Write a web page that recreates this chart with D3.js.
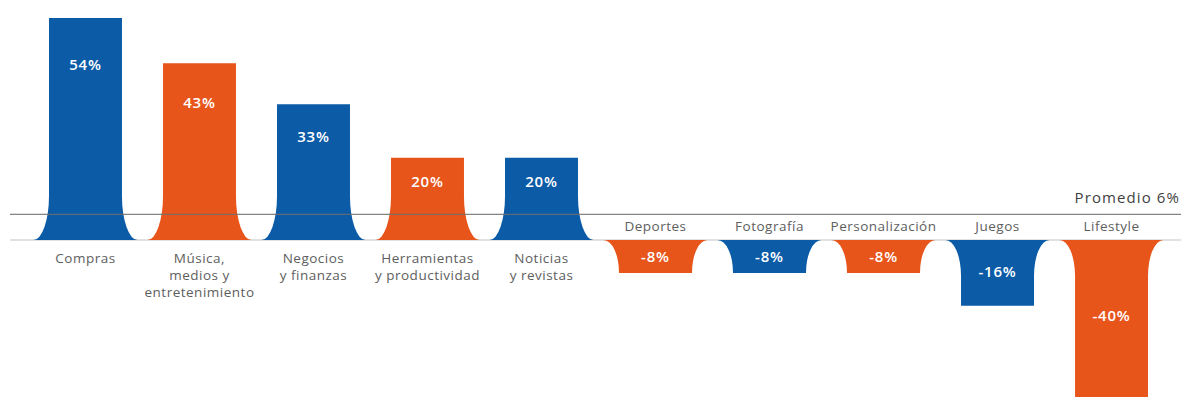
<!DOCTYPE html>
<html>
<head>
<meta charset="utf-8">
<script src="https://cdn.jsdelivr.net/npm/d3@7"></script>
<style>
  html, body { margin: 0; padding: 0; background: #fff; }
  svg { display: block; }
</style>
</head>
<body>
<svg id="chart" width="1181" height="397"></svg>
<script>
// Variación por categoría respecto al total, con el promedio general
const categories = [
  "Compras",
  "Música, medios y entretenimiento",
  "Negocios y finanzas",
  "Herramientas y productividad",
  "Noticias y revistas",
  "Deportes",
  "Fotografía",
  "Personalización",
  "Juegos",
  "Lifestyle"
];
// Category labels broken into lines
const labelLines = [
  ["Compras"],
  ["Música,", "medios y", "entretenimiento"],
  ["Negocios", "y finanzas"],
  ["Herramientas", "y productividad"],
  ["Noticias", "y revistas"],
  ["Deportes"],
  ["Fotografía"],
  ["Personalización"],
  ["Juegos"],
  ["Lifestyle"]
];
const values = [54, 43, 33, 20, 20, -8, -8, -8, -16, -40];
const colorKeys = ["azul", "naranja", "azul", "naranja", "azul", "naranja", "azul", "naranja", "azul", "naranja"];
const average = 6;
const averageLabel = "Promedio 6%";

const palette = { azul: "#0b5ba7", naranja: "#e8551b" };

const svg = d3.select("#chart");
const W = 1181;

const x = d3.scaleBand()
  .domain(categories)
  .range([49, 1148])
  .paddingInner(0.36)
  .paddingOuter(0);

const y = d3.scaleLinear()
  .domain([0, 54])
  .range([240, 18]);

const y0 = y(0);
const flareW = 15.5;

// Bar with a bell-shaped base that spreads out along the zero line
function barPath(d, i) {
  const x0 = x(categories[i]);
  const x1 = x0 + x.bandwidth();
  const yv = y(d);
  const h = Math.abs(yv - y0);
  if (d >= 0) {
    const fh = Math.min(44, h);
    return `M${x0 - flareW},${y0}` +
      `A${flareW},${fh} 0 0 0 ${x0},${y0 - fh}` +
      `L${x0},${yv}L${x1},${yv}L${x1},${y0 - fh}` +
      `A${flareW},${fh} 0 0 0 ${x1 + flareW},${y0}Z`;
  } else {
    const fh = Math.min(36, h);
    return `M${x0 - flareW},${y0}` +
      `A${flareW},${fh} 0 0 1 ${x0},${y0 + fh}` +
      `L${x0},${yv}L${x1},${yv}L${x1},${y0 + fh}` +
      `A${flareW},${fh} 0 0 1 ${x1 + flareW},${y0}Z`;
  }
}

// Zero line
svg.append("line")
  .attr("x1", 10).attr("x2", W)
  .attr("y1", y0).attr("y2", y0)
  .attr("stroke", "#c4c4c4").attr("stroke-width", 1.2);

// Bars
svg.append("g").selectAll("path")
  .data(values)
  .join("path")
  .attr("d", (d, i) => barPath(d, i))
  .attr("fill", (d, i) => palette[colorKeys[i]]);

// Average line, drawn over the bars
svg.append("line")
  .attr("x1", 10).attr("x2", W)
  .attr("y1", y(average) - 1).attr("y2", y(average) - 1)
  .attr("stroke", "#6e6e6e").attr("stroke-width", 1.3)
  .attr("stroke-opacity", 0.85);

svg.append("text")
  .attr("x", W - 1)
  .attr("y", y(average) - 12.5)
  .attr("text-anchor", "end")
  .attr("font-family", "'Open Sans', sans-serif")
  .attr("font-size", 15)
  .attr("letter-spacing", 1.1)
  .attr("fill", "#3f3f3f")
  .text(averageLabel);

// Value labels inside the bars
svg.append("g").selectAll("text")
  .data(values)
  .join("text")
  .attr("x", (d, i) => x(categories[i]) + x.bandwidth() / 2)
  .attr("y", (d, i) => {
    const h = Math.abs(y(d) - y0);
    return d >= 0 ? y(d) + 11 + 0.16 * h : y0 + 2 + 0.45 * h;
  })
  .attr("dy", "0.35em")
  .attr("text-anchor", "middle")
  .attr("font-family", "'Open Sans', sans-serif")
  .attr("font-size", 15)
  .attr("font-weight", 600)
  .attr("letter-spacing", 0.8)
  .attr("fill", "#ffffff")
  .text(d => `${d}%`);

// Category labels: below the zero line for gains, above it for losses
const catG = svg.append("g")
  .attr("font-family", "'Open Sans', sans-serif")
  .attr("font-size", 13.5)
  .attr("letter-spacing", 0.5)
  .attr("fill", "#5e5e5e")
  .attr("text-anchor", "middle");

catG.selectAll("text")
  .data(values)
  .join("text")
  .attr("x", (d, i) => x(categories[i]) + x.bandwidth() / 2)
  .attr("y", d => d >= 0 ? y0 + 23 : y0 - 9)
  .each(function (d, i) {
    d3.select(this).selectAll("tspan")
      .data(labelLines[i])
      .join("tspan")
      .attr("x", x(categories[i]) + x.bandwidth() / 2)
      .attr("dy", (t, j) => j === 0 ? 0 : 17)
      .text(t => t);
  });
</script>
</body>
</html>
